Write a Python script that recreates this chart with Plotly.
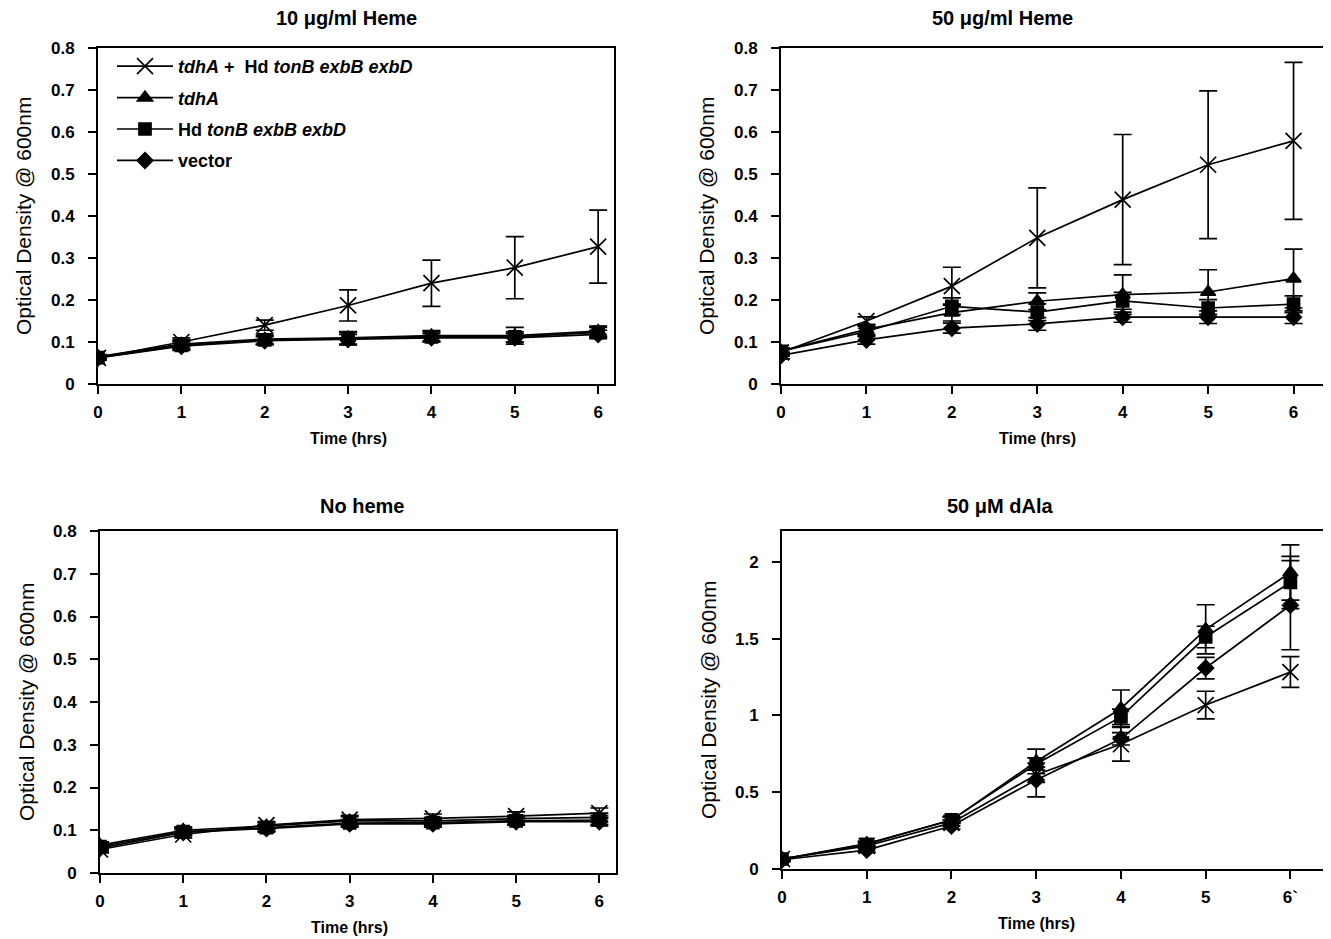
import plotly.graph_objects as go

time_hrs = [0, 1, 2, 3, 4, 5, 6]
series_names = ["<i>tdhA</i> +  Hd <i>tonB exbB exbD</i>", "<i>tdhA</i>", "Hd <i>tonB exbB exbD</i>", "vector"]
panel_titles = ["10 \u03bcg/ml Heme", "50 \u03bcg/ml Heme", "No heme", "50 \u03bcM dAla"]
x_title = "Time (hrs)"
y_title = "Optical Density @ 600nm"
x_ticktext_std = ["0", "1", "2", "3", "4", "5", "6"]
x_ticktext_dala = ["0", "1", "2", "3", "4", "5", "6`"]

# Panel 1: 10 ug/ml heme
p1_combo = [0.062, 0.100, 0.140, 0.187, 0.240, 0.277, 0.327]
p1_combo_err = [0.005, 0.010, 0.012, 0.037, 0.055, 0.074, 0.087]
p1_tdhA = [0.065, 0.095, 0.107, 0.110, 0.115, 0.115, 0.126]
p1_tdhA_err = [0.005, 0.010, 0.012, 0.015, 0.012, 0.020, 0.012]
p1_ton = [0.063, 0.092, 0.105, 0.108, 0.112, 0.112, 0.123]
p1_ton_err = [0.005, 0.010, 0.010, 0.015, 0.012, 0.012, 0.012]
p1_vec = [0.062, 0.090, 0.103, 0.106, 0.110, 0.110, 0.118]
p1_vec_err = [0.005, 0.010, 0.010, 0.012, 0.010, 0.010, 0.010]

# Panel 2: 50 ug/ml heme
p2_combo = [0.075, 0.150, 0.233, 0.348, 0.439, 0.522, 0.579]
p2_combo_err = [0.008, 0.010, 0.045, 0.119, 0.155, 0.176, 0.187]
p2_tdhA = [0.078, 0.130, 0.170, 0.197, 0.213, 0.219, 0.251]
p2_tdhA_err = [0.008, 0.012, 0.020, 0.020, 0.047, 0.053, 0.070]
p2_ton = [0.078, 0.125, 0.185, 0.171, 0.198, 0.181, 0.190]
p2_ton_err = [0.008, 0.012, 0.020, 0.020, 0.020, 0.020, 0.020]
p2_vec = [0.068, 0.105, 0.133, 0.143, 0.159, 0.159, 0.159]
p2_vec_err = [0.008, 0.010, 0.012, 0.015, 0.012, 0.015, 0.015]

# Panel 3: no heme
p3_combo = [0.055, 0.090, 0.112, 0.125, 0.128, 0.133, 0.140]
p3_combo_err = [0.008, 0.008, 0.008, 0.010, 0.010, 0.010, 0.012]
p3_tdhA = [0.065, 0.100, 0.110, 0.122, 0.122, 0.127, 0.130]
p3_tdhA_err = [0.008, 0.008, 0.008, 0.010, 0.008, 0.008, 0.010]
p3_ton = [0.062, 0.097, 0.106, 0.117, 0.118, 0.122, 0.124]
p3_ton_err = [0.008, 0.008, 0.008, 0.008, 0.008, 0.008, 0.010]
p3_vec = [0.058, 0.095, 0.104, 0.115, 0.115, 0.120, 0.120]
p3_vec_err = [0.008, 0.008, 0.008, 0.008, 0.008, 0.008, 0.010]

# Panel 4: 50 uM dAla
p4_combo = [0.065, 0.150, 0.300, 0.614, 0.812, 1.067, 1.282]
p4_combo_err = [0.010, 0.015, 0.020, 0.050, 0.110, 0.090, 0.100]
p4_tdhA = [0.065, 0.166, 0.317, 0.700, 1.045, 1.560, 1.930]
p4_tdhA_err = [0.010, 0.015, 0.020, 0.080, 0.120, 0.160, 0.180]
p4_ton = [0.065, 0.160, 0.320, 0.683, 0.990, 1.510, 1.865]
p4_ton_err = [0.010, 0.015, 0.020, 0.040, 0.050, 0.070, 0.170]
p4_vec = [0.060, 0.123, 0.280, 0.580, 0.847, 1.308, 1.717]
p4_vec_err = [0.010, 0.015, 0.020, 0.110, 0.040, 0.070, 0.290]

panels = [
    [(p1_combo, p1_combo_err), (p1_tdhA, p1_tdhA_err), (p1_ton, p1_ton_err), (p1_vec, p1_vec_err)],
    [(p2_combo, p2_combo_err), (p2_tdhA, p2_tdhA_err), (p2_ton, p2_ton_err), (p2_vec, p2_vec_err)],
    [(p3_combo, p3_combo_err), (p3_tdhA, p3_tdhA_err), (p3_ton, p3_ton_err), (p3_vec, p3_vec_err)],
    [(p4_combo, p4_combo_err), (p4_tdhA, p4_tdhA_err), (p4_ton, p4_ton_err), (p4_vec, p4_vec_err)],
]

# the page body has an 8px margin: the figure is shifted by it, so positions compensate
OFF = 8
W, H = 1331 - OFF, 939 - OFF
FONT = "Liberation Sans, Arial, sans-serif"


def fx(px):
    return (px - OFF) / W


def fy(py):
    return 1 - (py - OFF) / H


# pixel boxes in the target picture: (x0, x1, ytop, ybottom), x range max, y range, y ticks, x tick text
boxes = [
    (98, 614, 48, 384, 6.19, [0, 0.8], [0, 0.1, 0.2, 0.3, 0.4, 0.5, 0.6, 0.7, 0.8], x_ticktext_std),
    (781, 1326, 48, 384, 6.38, [0, 0.8], [0, 0.1, 0.2, 0.3, 0.4, 0.5, 0.6, 0.7, 0.8], x_ticktext_std),
    (100, 616, 531, 873, 6.20, [0, 0.8], [0, 0.1, 0.2, 0.3, 0.4, 0.5, 0.6, 0.7, 0.8], x_ticktext_std),
    (782, 1326, 531, 869, 6.42, [0, 2.2], [0, 0.5, 1, 1.5, 2], x_ticktext_dala),
]

symbols = [("x-thin-open", 16), ("triangle-up", 13), ("square", 12), ("diamond", 12)]

fig = go.Figure()
layout = {}
annotations = []
for i, (box, data) in enumerate(zip(boxes, panels)):
    x0, x1, yt, yb, xmax, yr, yticks, xtt = box
    idx = "" if i == 0 else str(i + 1)
    xa, ya = "x" + idx, "y" + idx
    for j, (vals, errs) in enumerate(data):
        sym, sz = symbols[j]
        fig.add_trace(go.Scatter(
            x=time_hrs, y=vals, name=series_names[j], mode="lines+markers",
            xaxis=xa, yaxis=ya, showlegend=(i == 0), legendgroup="g%d" % j,
            line=dict(color="black", width=1.7),
            marker=dict(symbol=sym, size=sz, color="black",
                        line=dict(color="black", width=1.7)),
            error_y=dict(type="data", array=errs, color="black", thickness=1.7, width=9),
        ))
    common = dict(showgrid=False, zeroline=False, showline=True, linecolor="black",
                  linewidth=2, mirror=True, ticks="outside", ticklen=8, tickwidth=2,
                  tickcolor="black", automargin=False,
                  tickfont=dict(family=FONT, size=17, color="black", weight="bold"))
    layout["xaxis" + idx] = dict(domain=[fx(x0), fx(x1)], range=[0, xmax], anchor=ya,
                                 tickvals=time_hrs, ticktext=xtt, ticklabelstandoff=4,
                                 **common)
    layout["yaxis" + idx] = dict(domain=[fy(yb), fy(yt)], range=yr, anchor=xa,
                                 tickvals=yticks, ticklabelstandoff=10, **common)
    # axis titles
    xc = x0 + (x1 - x0) * 3.0 / xmax
    annotations.append(dict(text=x_title, x=fx(xc), y=fy(yb + 54), xref="paper", yref="paper",
                            xanchor="center", yanchor="middle", showarrow=False,
                            font=dict(family=FONT, size=16, color="black", weight="bold")))
    annotations.append(dict(text=y_title, x=fx(x0 - 74), y=fy((yt + yb) / 2),
                            xref="paper", yref="paper", textangle=-90,
                            xanchor="center", yanchor="middle", showarrow=False,
                            font=dict(family=FONT, size=21, color="black")))

title_pos = [(346, 18), (1002, 18), (362, 506), (1000, 506)]
for t, (px, py) in zip(panel_titles, title_pos):
    annotations.append(dict(text=t, x=fx(px), y=fy(py), xref="paper", yref="paper",
                            xanchor="center", yanchor="middle", showarrow=False,
                            font=dict(family=FONT, size=20, color="black", weight="bold")))

fig.update_layout(
    width=W, height=H, margin=dict(l=0, r=0, t=0, b=0, autoexpand=False),
    paper_bgcolor="white", plot_bgcolor="white",
    annotations=annotations,
    showlegend=True,
    legend=dict(x=fx(112), y=fy(48), xanchor="left", yanchor="top",
                bgcolor="rgba(0,0,0,0)", tracegroupgap=5, itemwidth=56,
                font=dict(family=FONT, size=18, color="black", weight="bold")),
    **layout,
)

fig.write_html("out.html")
